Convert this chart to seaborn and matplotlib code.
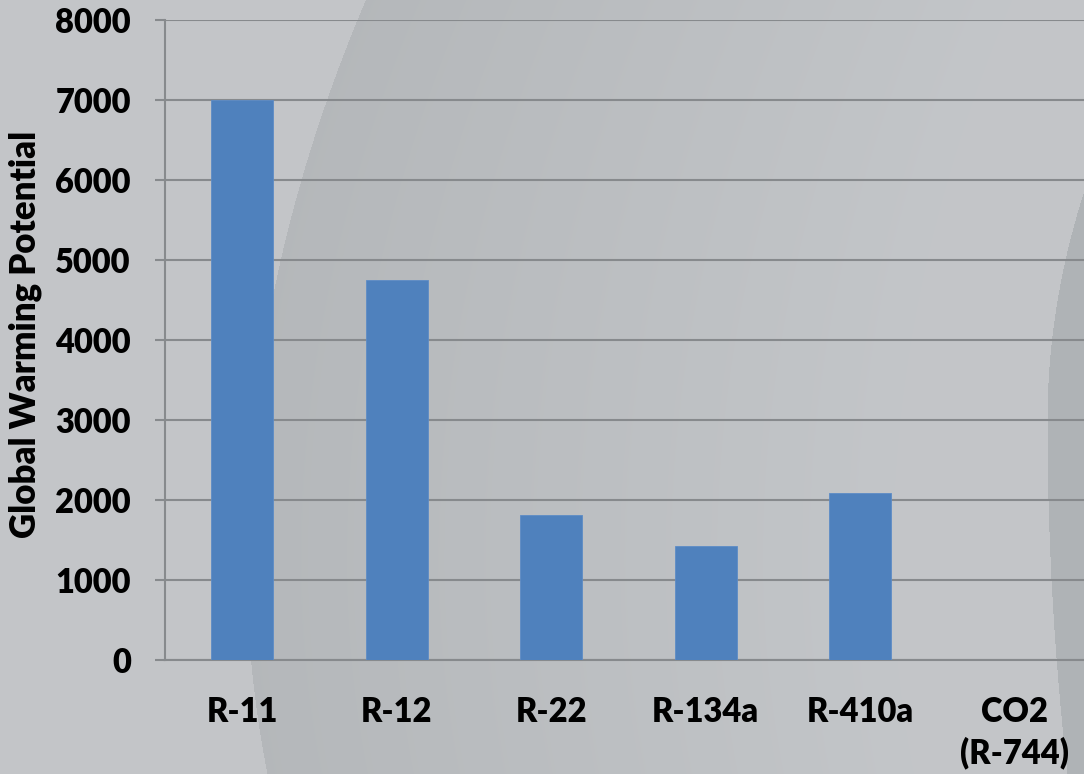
import numpy as np
import pandas as pd
import matplotlib
matplotlib.use("Agg")
import matplotlib.pyplot as plt
import seaborn as sns

# Refrigerant global warming potentials
refrigerants = ["R-11", "R-12", "R-22", "R-134a", "R-410a", "CO2\n(R-744)"]
gwp = [7000, 4750, 1810, 1430, 2088, 1]
y_ticks = [0, 1000, 2000, 3000, 4000, 5000, 6000, 7000, 8000]

df = pd.DataFrame({"refrigerant": refrigerants, "gwp": gwp})

sns.set_theme(style="white")
plt.rcParams["font.family"] = ["Lato", "DejaVu Sans"]

W, H = 1084, 774
fig = plt.figure(figsize=(W / 100, H / 100), dpi=100)

# Slide-style background: light gray with soft darker swooshes
yy, xx = np.mgrid[0:H, 0:W].astype(float)
light = np.array([0.765, 0.776, 0.788])
dark = np.array([0.706, 0.718, 0.729])
img = np.ones((H, W, 3)) * light
# left swoosh, darker band fading out to the right
k = np.where(yy < 560, 3.8e-4, 4.6e-4)
edge = 246 + k * (yy - 560) ** 2
inside = xx > edge
fade = np.clip(1 - (xx - edge) / 650.0, 0, 1) * 0.95
mix = np.where(inside, fade, 0.0)[..., None]
img = img * (1 - mix) + dark * mix
# right swoosh
k2 = np.where(yy < 420, 7e-4, 1.6e-4)
edge2 = 1047 + k2 * (yy - 420) ** 2
inside2 = (xx > edge2)[..., None]
img = np.where(inside2, np.array([0.690, 0.702, 0.714]), img)

bg = fig.add_axes([0, 0, 1, 1], zorder=-10)
bg.imshow(img, extent=[0, W, H, 0], aspect="auto", interpolation="bilinear")
bg.axis("off")

left, right_px, top, bottom = 165, 165 + 6 * 154.5, 20, 660
ax = fig.add_axes([left / W, 1 - bottom / H, (right_px - left) / W, (bottom - top) / H])
ax.set_facecolor("none")

sns.barplot(data=df, x="refrigerant", y="gwp", color="#4F81BD", saturation=1,
            width=0.4, ax=ax, edgecolor="#5d8cc6", linewidth=0.6, zorder=3)

grid_c = "#878a8d"
ax.set_ylim(0, 8000)
ax.set_xlim(-0.5, 5.5)
ax.set_yticks(y_ticks)
ax.set_yticklabels([str(v) for v in y_ticks])
ax.yaxis.grid(True, color=grid_c, linewidth=1.5, zorder=0)
ax.set_axisbelow(True)

for s in ["top", "right"]:
    ax.spines[s].set_visible(False)
for s in ["left", "bottom"]:
    ax.spines[s].set_color(grid_c)
    ax.spines[s].set_linewidth(1.5)

ax.set_xticks(np.arange(-0.5, 6, 1), minor=True)
ax.tick_params(axis="x", which="minor", length=7.5, width=1.5, color=grid_c, direction="out")
ax.tick_params(axis="x", which="major", length=0, pad=26)
ax.tick_params(axis="y", which="major", length=7.5, width=1.5, color=grid_c,
               direction="out", pad=17, left=True)

weight = "heavy"
for lab in ax.get_xticklabels():
    lab.set_fontsize(23.5)
    lab.set_fontweight(weight)
    lab.set_color("black")
    lab.set_linespacing(1.3)
    lab.set_verticalalignment("top")
for lab in ax.get_yticklabels():
    lab.set_fontsize(23.5)
    lab.set_fontweight(weight)
    lab.set_color("black")

ax.set_xlabel("")
ax.set_ylabel("Global Warming Potential", fontsize=25, fontweight=weight, color="black")
ax.yaxis.set_label_coords(-0.133, 0.509)

fig.savefig("out.png", dpi=100)
